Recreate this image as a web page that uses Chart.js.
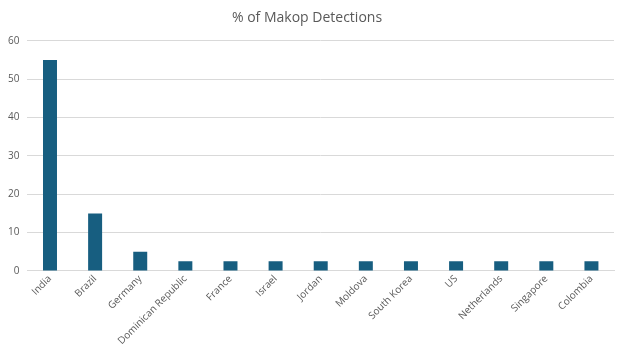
<!DOCTYPE html>
<html><head><meta charset="utf-8">
<script src="https://cdn.jsdelivr.net/npm/chart.js@4/dist/chart.umd.min.js"></script>
<style>html,body{margin:0;padding:0;background:#fff}#wrap{width:624px;height:352px}</style>
</head><body><div id="wrap"><canvas id="c"></canvas></div>
<script>
const categories = ["India","Brazil","Germany","Dominican Republic","France","Israel","Jordan","Moldova","South Korea","US","Netherlands","Singapore","Colombia"];
const detections = [55,15,5,2.5,2.5,2.5,2.5,2.5,2.5,2.5,2.5,2.5,2.5];
const yTicks = [0,10,20,30,40,50,60];

new Chart(document.getElementById('c'), {
  type: 'bar',
  data: { labels: categories, datasets: [{ data: detections, backgroundColor: '#175e80', borderWidth: 0, barPercentage: 0.5, categoryPercentage: 0.62 }] },
  options: {
    responsive: true, maintainAspectRatio: false, animation: false,
    layout: { padding: { left: 0, right: 10, top: 4, bottom: 3 } },
    plugins: {
      legend: { display: false }, tooltip: { enabled: false },
      title: { display: true, text: '% of Makop Detections', color: '#595959', font: { family: 'Open Sans', size: 14, weight: 'normal' }, padding: { top: 6, bottom: 14 } }
    },
    scales: {
      x: {
        grid: { display: false, drawTicks: false },
        border: { color: '#d9d9d9' },
        ticks: { color: '#595959', font: { family: 'Open Sans', size: 10 }, maxRotation: 45, minRotation: 45, padding: 2, autoSkip: false }
      },
      y: {
        min: 0, max: 60,
        afterBuildTicks: (s) => { s.ticks = yTicks.map(v => ({ value: v })); },
        grid: { color: '#d9d9d9', drawTicks: false },
        border: { display: false },
        ticks: { color: '#595959', font: { family: 'Open Sans', size: 10 }, padding: 8 }
      }
    }
  }
});
</script></body></html>
